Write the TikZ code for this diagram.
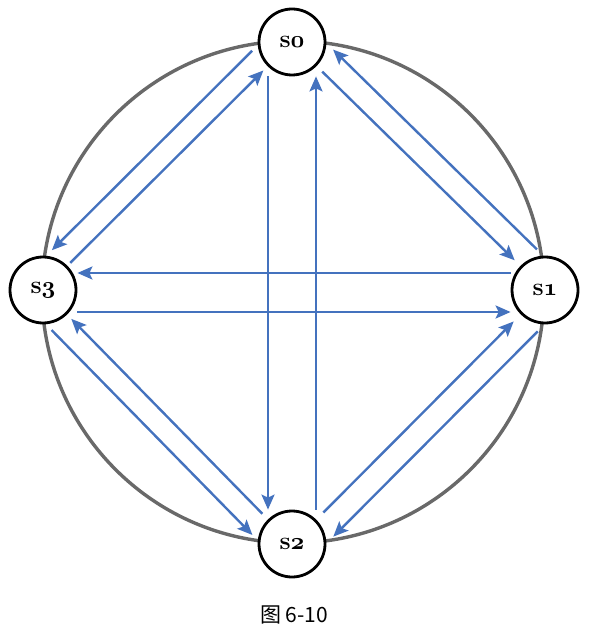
\documentclass[tikz,border=0pt]{standalone}
\usepackage{fontspec}
\newfontfamily\cjk{Noto Sans CJK SC}
\usetikzlibrary{arrows.meta}
\definecolor{lineblue}{RGB}{68,114,190}
\definecolor{ringgray}{RGB}{105,105,105}
\newcommand{\osn}[1]{{\fontencoding{OML}\fontfamily{cmm}\fontshape{it}\selectfont #1}}
\begin{document}
\begin{tikzpicture}[x=0.5pt,y=-0.5pt,
  state/.style={circle,draw=black,line width=1.4pt,fill=white,minimum size=33pt,inner sep=0pt,font=\fontsize{12.5}{14}\selectfont\bfseries},
  arr/.style={draw=lineblue,line width=1.2pt,-{Stealth[length=7.5pt,width=6.5pt,inset=1.5pt]}},
  ring/.style={draw=ringgray,line width=1.7pt},
  caption/.style={font=\cjk\fontsize{10.5}{12}\selectfont}]
\useasboundingbox (0,0) rectangle (596,640);
\draw[ring] (293,292) circle[radius=251];
\node[state] (s0) at (292,42) {s\osn{0}};
\node[state] (s1) at (545,290) {s\osn{1}};
\node[state] (s2) at (292,544) {s\osn{2}};
\node[state] (s3) at (43,290) {s\osn{3}};
\node[caption] (cap) at (294,615) {图 6-10};
% vertical pair
\draw[arr, transform canvas={shift={(-24,0)}}] (s0) -- (s2);
\draw[arr, transform canvas={shift={(24,0)}}] (s2) -- (s0);
% horizontal pair
\draw[arr, transform canvas={shift={(0,-17)}}] (s1) -- (s3);
\draw[arr, transform canvas={shift={(0,22)}}] (s3) -- (s1);
% s0 - s1
\draw[arr, transform canvas={shift={(16.5,-16.5)}}] (s1) -- (s0);
\draw[arr, shorten <=4pt, shorten >=4pt] (s0) -- (s1);
% s0 - s3
\draw[arr, transform canvas={shift={(-15.5,-15.5)}}] (s0) -- (s3);
\draw[arr, shorten <=2pt, shorten >=3pt] (s3) -- (s0);
% s3 - s2
\draw[arr, transform canvas={shift={(-15.5,15.5)}}] (s3) -- (s2);
\draw[arr, shorten <=4pt, shorten >=3pt] (s2) -- (s3);
% s2 - s1
\draw[arr, transform canvas={shift={(17,17)}}] (s1) -- (s2);
\draw[arr, shorten <=5pt, shorten >=5pt] (s2) -- (s1);
\end{tikzpicture}
\end{document}
